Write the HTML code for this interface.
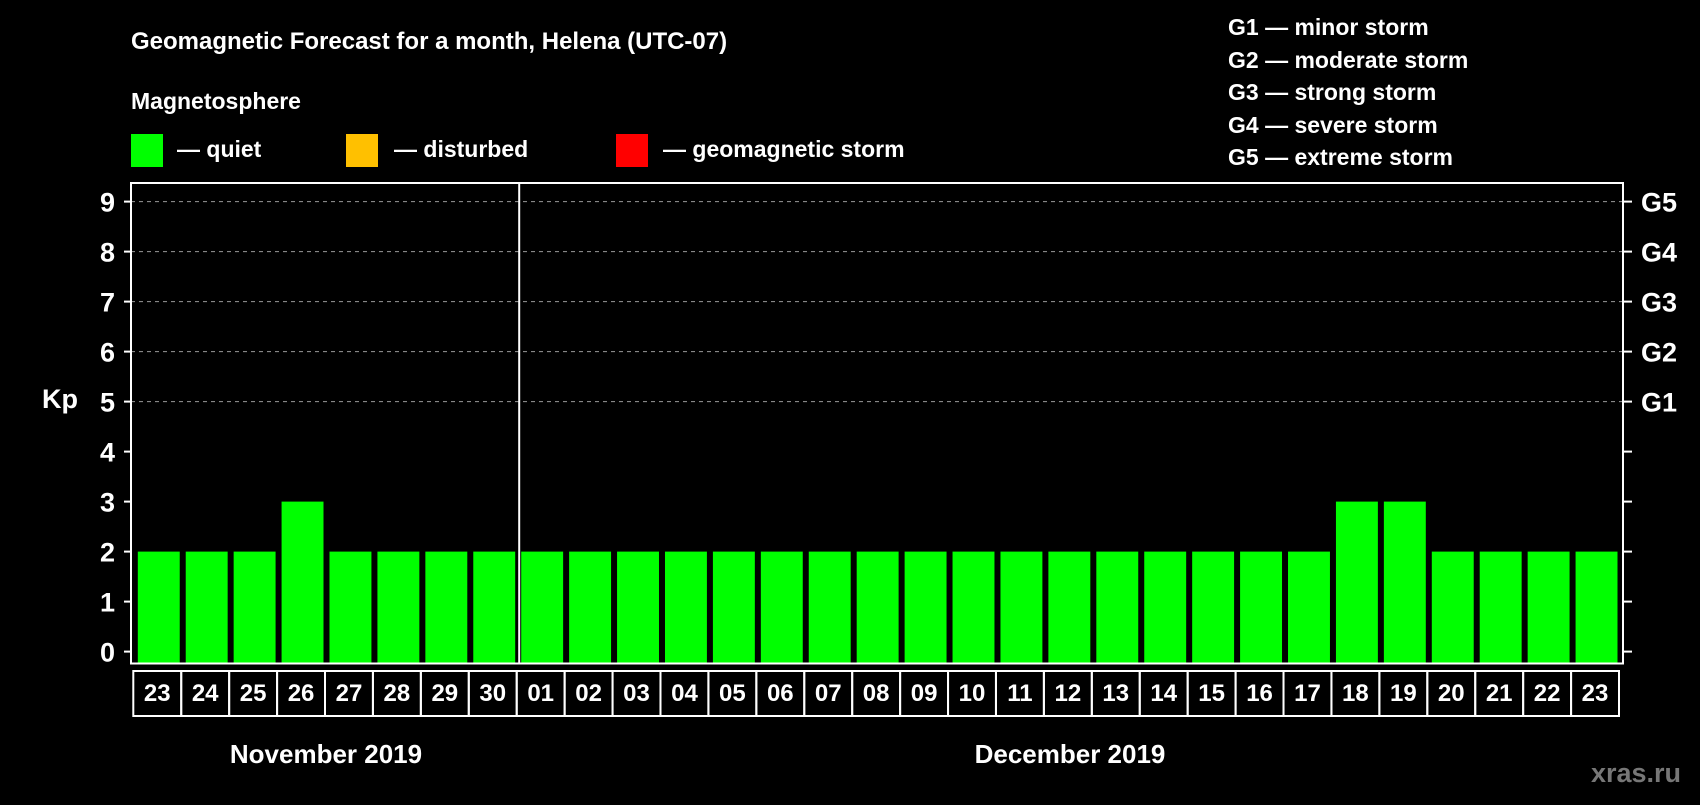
<!DOCTYPE html>
<html><head><meta charset="utf-8"><style>
body{margin:0;background:#000;width:1700px;height:800px;overflow:hidden;font-family:"Liberation Sans",sans-serif}
svg text{font-family:"Liberation Sans",sans-serif;font-weight:bold;fill:#fff}
</style></head><body>
<svg id="chart" width="1700" height="800" xmlns="http://www.w3.org/2000/svg">
<text x="131" y="49" font-size="24">Geomagnetic Forecast for a month, Helena (UTC-07)</text>
<text x="131" y="109" font-size="23">Magnetosphere</text>
<g><rect x="131" y="134" width="32" height="33" fill="#00ff00"/><text x="177" y="157" font-size="23">— quiet</text></g>
<g><rect x="346" y="134" width="32" height="33" fill="#ffc000"/><text x="394" y="157" font-size="23">— disturbed</text></g>
<g><rect x="616" y="134" width="32" height="33" fill="#ff0000"/><text x="663" y="157" font-size="23">— geomagnetic storm</text></g>
<g font-size="23">
<text x="1228" y="35">G1 — minor storm</text>
<text x="1228" y="68">G2 — moderate storm</text>
<text x="1228" y="100">G3 — strong storm</text>
<text x="1228" y="133">G4 — severe storm</text>
<text x="1228" y="165">G5 — extreme storm</text>
</g>
<text x="42" y="408" font-size="27">Kp</text>
<g id="grid"></g><g id="bars"></g><g id="axes"></g><g id="dates"></g>
<text x="326" y="763" font-size="26" text-anchor="middle">November 2019</text>
<text x="1070" y="763" font-size="26" text-anchor="middle">December 2019</text>
<text x="1681" y="782" font-size="27" text-anchor="end" style="fill:#777">xras.ru</text>
</svg>
<script>
const days=["23","24","25","26","27","28","29","30","01","02","03","04","05","06","07","08","09","10","11","12","13","14","15","16","17","18","19","20","21","22","23"];
const kp=[2,2,2,3,2,2,2,2,2,2,2,2,2,2,2,2,2,2,2,2,2,2,2,2,2,3,3,2,2,2,2];
const yTicks=[0,1,2,3,4,5,6,7,8,9];
const gLabels=["G1","G2","G3","G4","G5"];
const gLevels=[5,6,7,8,9];
const NS="http://www.w3.org/2000/svg";
const L=131,R=1623,T=183,B=663.5,y0=651.6,unit=50,slot0=134.8,slotW=(1620.5-134.8)/days.length;
const yS=v=>y0-v*unit, xS=i=>slot0+i*slotW;
function mk(tag,attrs,parent){const e=document.createElementNS(NS,tag);for(const k in attrs)e.setAttribute(k,attrs[k]);document.getElementById(parent).appendChild(e);return e;}
gLevels.forEach(v=>{const l=mk('line',{x1:L,x2:R,y1:yS(v),y2:yS(v),stroke:'#999','stroke-dasharray':'4,4','stroke-width':1},'grid');

});
kp.forEach((v,i)=>{const c=v>=5?'#ff0000':(v>=4?'#ffc000':'#00ff00');
const r=mk('rect',{x:xS(i)+3,y:yS(v),width:slotW-6,height:B-1-yS(v),fill:c},'bars');

});
const fr=mk('rect',{x:L,y:T,width:R-L,height:B-T,fill:'none',stroke:'#fff','stroke-width':2},'axes');


const dv=mk('line',{x1:xS(8)+1,x2:xS(8)+1,y1:T,y2:B,stroke:'#fff','stroke-width':2},'axes');


yTicks.forEach(v=>{const y=yS(v);
mk('line',{x1:L-7,x2:L,y1:y,y2:y,stroke:'#fff','stroke-width':2},'axes');
mk('line',{x1:R,x2:R+9,y1:y,y2:y,stroke:'#fff','stroke-width':2},'axes');
const t=mk('text',{x:115,y:y+10,'font-size':27,'text-anchor':'end'},'axes');t.textContent=v;

});
gLevels.forEach((v,i)=>{const t=mk('text',{x:1641,y:yS(v)+10,'font-size':27},'axes');t.textContent=gLabels[i];

});
days.forEach((d,i)=>{const x=xS(i);
const b=mk('rect',{x:x-1.5,y:671,width:slotW,height:45,fill:'none',stroke:'#fff','stroke-width':2},'dates');


const t=mk('text',{x:x+slotW/2-1.5,y:701,'font-size':24,'text-anchor':'middle'},'dates');t.textContent=d;

});
</script>
</body></html>
